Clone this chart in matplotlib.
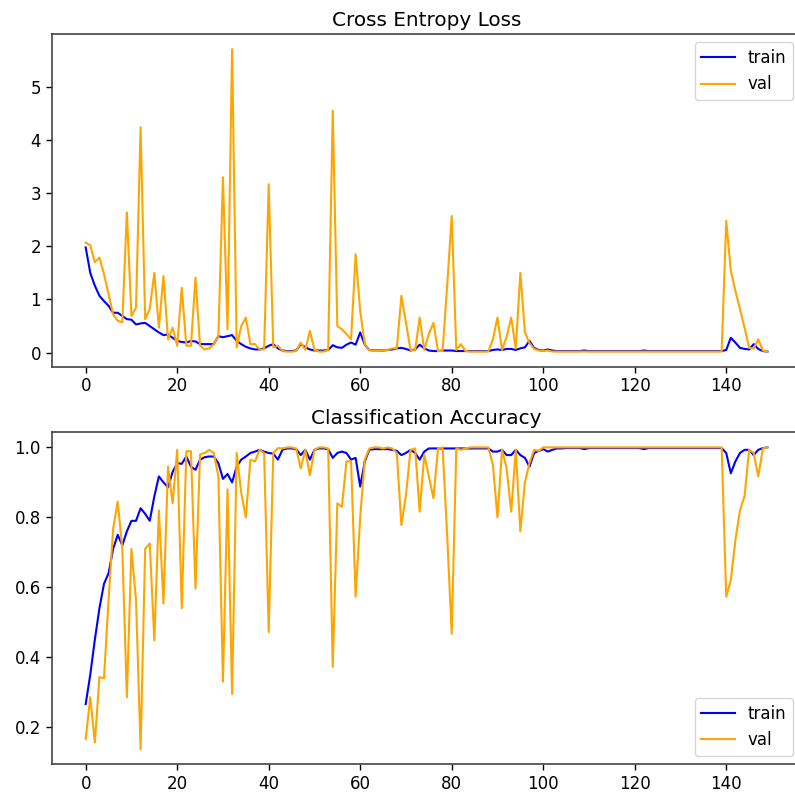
import matplotlib
matplotlib.use("Agg")
import matplotlib.pyplot as plt

epochs = list(range(150))

train_loss = [
    1.98, 1.50, 1.26, 1.07, 0.97, 0.88, 0.75, 0.75, 0.69, 0.63,
    0.62, 0.53, 0.55, 0.56, 0.50, 0.44, 0.38, 0.33, 0.34, 0.28,
    0.22, 0.20, 0.19, 0.22, 0.21, 0.16, 0.16, 0.16, 0.16, 0.31,
    0.29, 0.31, 0.33, 0.22, 0.16, 0.11, 0.08, 0.06, 0.06, 0.08,
    0.13, 0.16, 0.08, 0.04, 0.03, 0.03, 0.04, 0.16, 0.10, 0.06,
    0.04, 0.04, 0.04, 0.05, 0.14, 0.10, 0.09, 0.15, 0.19, 0.15,
    0.38, 0.15, 0.05, 0.04, 0.04, 0.04, 0.05, 0.06, 0.08, 0.09,
    0.07, 0.04, 0.06, 0.15, 0.08, 0.04, 0.03, 0.03, 0.04, 0.04,
    0.04, 0.03, 0.03, 0.03, 0.03, 0.03, 0.03, 0.03, 0.03, 0.05,
    0.06, 0.05, 0.07, 0.07, 0.05, 0.08, 0.10, 0.22, 0.09, 0.05,
    0.04, 0.06, 0.04, 0.03, 0.03, 0.03, 0.03, 0.03, 0.03, 0.04,
    0.03, 0.03, 0.03, 0.03, 0.03, 0.03, 0.03, 0.03, 0.03, 0.03,
    0.03, 0.03, 0.04, 0.03, 0.03, 0.03, 0.03, 0.03, 0.03, 0.03,
    0.03, 0.03, 0.03, 0.03, 0.03, 0.03, 0.03, 0.03, 0.03, 0.03,
    0.05, 0.28, 0.19, 0.09, 0.07, 0.06, 0.16, 0.07, 0.03, 0.02,
]

val_loss = [
    2.07, 2.02, 1.70, 1.79, 1.48, 1.10, 0.72, 0.60, 0.57, 2.64,
    0.69, 0.85, 4.24, 0.63, 0.82, 1.50, 0.47, 1.44, 0.25, 0.47,
    0.13, 1.22, 0.13, 0.13, 1.41, 0.13, 0.06, 0.08, 0.16, 0.30,
    3.30, 0.44, 5.71, 0.10, 0.50, 0.66, 0.16, 0.16, 0.06, 0.06,
    3.17, 0.10, 0.13, 0.03, 0.02, 0.02, 0.03, 0.19, 0.05, 0.41,
    0.05, 0.02, 0.02, 0.05, 4.55, 0.50, 0.44, 0.35, 0.25, 1.85,
    0.78, 0.16, 0.05, 0.03, 0.03, 0.04, 0.05, 0.08, 0.08, 1.07,
    0.56, 0.05, 0.04, 0.66, 0.05, 0.35, 0.56, 0.03, 0.03, 1.25,
    2.57, 0.05, 0.16, 0.03, 0.02, 0.02, 0.02, 0.02, 0.02, 0.25,
    0.66, 0.05, 0.30, 0.66, 0.08, 1.50, 0.38, 0.18, 0.07, 0.04,
    0.03, 0.04, 0.02, 0.02, 0.02, 0.02, 0.02, 0.02, 0.02, 0.02,
    0.02, 0.02, 0.02, 0.02, 0.02, 0.02, 0.02, 0.02, 0.02, 0.02,
    0.02, 0.02, 0.02, 0.02, 0.02, 0.02, 0.02, 0.02, 0.02, 0.02,
    0.02, 0.02, 0.02, 0.02, 0.02, 0.02, 0.02, 0.02, 0.02, 0.02,
    2.48, 1.54, 1.16, 0.82, 0.47, 0.09, 0.08, 0.25, 0.04, 0.02,
]

train_acc = [
    0.266, 0.35, 0.45, 0.54, 0.61, 0.64, 0.71, 0.75, 0.72, 0.76,
    0.79, 0.79, 0.826, 0.81, 0.79, 0.86, 0.917, 0.90, 0.886, 0.93,
    0.955, 0.953, 0.974, 0.945, 0.936, 0.965, 0.972, 0.974, 0.974, 0.955,
    0.91, 0.924, 0.90, 0.945, 0.965, 0.974, 0.984, 0.988, 0.993, 0.988,
    0.984, 0.982, 0.965, 0.993, 0.997, 0.997, 0.995, 0.978, 0.993, 0.965,
    0.993, 0.997, 0.997, 0.995, 0.97, 0.984, 0.988, 0.984, 0.965, 0.97,
    0.888, 0.96, 0.993, 0.995, 0.995, 0.995, 0.995, 0.993, 0.99, 0.978,
    0.984, 0.993, 0.984, 0.965, 0.988, 0.997, 0.997, 0.997, 0.997, 0.997,
    0.997, 0.997, 0.997, 0.997, 0.997, 0.997, 0.997, 0.997, 0.997, 0.988,
    0.988, 0.993, 0.978, 0.978, 0.993, 0.978, 0.97, 0.945, 0.984, 0.99,
    0.995, 0.988, 0.993, 0.997, 0.997, 0.998, 0.998, 0.998, 0.998, 0.995,
    0.998, 0.998, 0.998, 0.998, 0.998, 0.998, 0.998, 0.998, 0.998, 0.998,
    0.998, 0.998, 0.995, 0.998, 0.998, 0.998, 0.998, 0.998, 0.998, 0.998,
    0.998, 0.998, 0.998, 0.998, 0.998, 0.998, 0.998, 0.998, 0.998, 0.998,
    0.984, 0.926, 0.96, 0.984, 0.993, 0.993, 0.978, 0.993, 0.998, 1.0,
]

val_acc = [
    0.166, 0.286, 0.156, 0.343, 0.34, 0.563, 0.768, 0.845, 0.71, 0.286,
    0.71, 0.563, 0.137, 0.71, 0.725, 0.448, 0.82, 0.553, 0.945, 0.84,
    0.993, 0.54, 0.989, 0.989, 0.596, 0.98, 0.984, 0.993, 0.984, 0.917,
    0.33, 0.88, 0.295, 0.984, 0.87, 0.80, 0.965, 0.96, 0.993, 0.984,
    0.472, 0.984, 0.998, 0.997, 1.0, 1.0, 0.997, 0.94, 0.993, 0.92,
    0.993, 1.0, 1.0, 0.997, 0.372, 0.84, 0.83, 0.96, 0.96, 0.573,
    0.80, 0.965, 0.997, 1.0, 1.0, 0.997, 1.0, 0.997, 0.984, 0.778,
    0.864, 0.993, 0.997, 0.816, 0.979, 0.917, 0.855, 0.997, 1.0, 0.75,
    0.467, 0.997, 0.993, 0.997, 1.0, 1.0, 1.0, 1.0, 1.0, 0.95,
    0.80, 0.993, 0.94, 0.816, 0.993, 0.76, 0.90, 0.955, 0.993, 0.99,
    1.0, 1.0, 1.0, 1.0, 1.0, 1.0, 1.0, 1.0, 1.0, 1.0,
    1.0, 1.0, 1.0, 1.0, 1.0, 1.0, 1.0, 1.0, 1.0, 1.0,
    1.0, 1.0, 1.0, 1.0, 1.0, 1.0, 1.0, 1.0, 1.0, 1.0,
    1.0, 1.0, 1.0, 1.0, 1.0, 1.0, 1.0, 1.0, 1.0, 1.0,
    0.573, 0.62, 0.735, 0.82, 0.86, 0.993, 0.984, 0.917, 0.997, 1.0,
]

W, H = 795, 796
fig = plt.figure(figsize=(W / 100, H / 100), dpi=100)

left = 51.6 / W
width = (801.5 - 51.6) / W
ax1 = fig.add_axes([left, 1 - 366.7 / H, width, (366.7 - 34) / H])
ax2 = fig.add_axes([left, 1 - 764.3 / H, width, (764.3 - 432.3) / H])

lw = 1.5
ax1.plot(epochs, train_loss, color='blue', label='train', linewidth=lw)
ax1.plot(epochs, val_loss, color='orange', label='val', linewidth=lw)
ax1.set_title('Cross Entropy Loss', fontsize=14.4)
ax1.legend(loc='upper right', fontsize=12)

ax2.plot(epochs, train_acc, color='blue', label='train', linewidth=lw)
ax2.plot(epochs, val_acc, color='orange', label='val', linewidth=lw)
ax2.set_title('Classification Accuracy', fontsize=14.4)
ax2.legend(loc='lower right', fontsize=12)

for ax in (ax1, ax2):
    ax.tick_params(labelsize=12, length=4.2, width=1)
    ax.set_xticks([0, 20, 40, 60, 80, 100, 120, 140])
    for s in ax.spines.values():
        s.set_linewidth(1.2)
        s.set_color('#444444')

fig.savefig('out.png', dpi=100)
